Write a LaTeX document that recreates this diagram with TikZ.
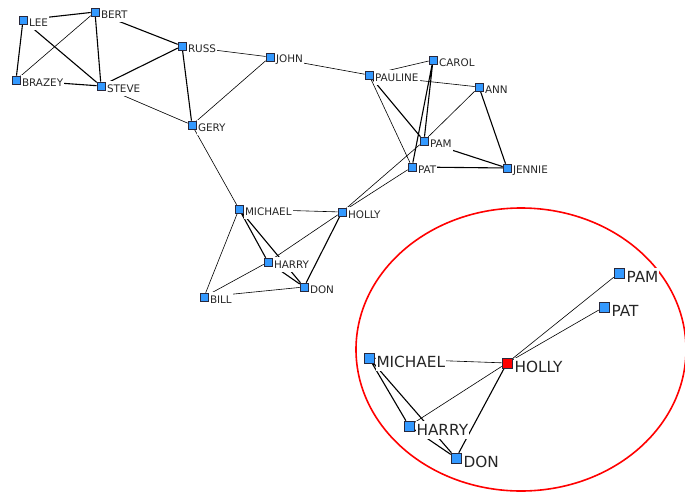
\documentclass[tikz,border=0pt]{standalone}
\usepackage{fontspec}
\setmainfont{DejaVu Sans}
\usetikzlibrary{backgrounds}
\definecolor{nodeblue}{RGB}{51,153,255}
\definecolor{nodeedge}{RGB}{40,40,60}
\tikzset{
  actor/.style={rectangle, draw=nodeedge, line width=0.6pt, fill=nodeblue,
    minimum size=#1, inner sep=0pt},
  actor/.default=8pt,
  lab/.style={fill=white, inner xsep=1pt, inner ysep=3.5pt, text=black!85},
  toplab/.style={label={[lab, font=\fontsize{10.4}{10.4}\selectfont, anchor=west,
    label distance=0.5pt, yshift=-2.5pt]east:#1}},
  sublab/.style={label={[lab, font=\fontsize{15.3}{15.3}\selectfont, anchor=west,
    label distance=1pt, yshift=-4pt]east:#1}},
  tie/.style={draw=black, line width=0.6pt},
  strong/.style={draw=black, line width=1.1pt},
}
\begin{document}
\begin{tikzpicture}[x=1pt, y=-1pt]
\useasboundingbox (0,0) rectangle (685,493);

% ---- full network ----
\node[actor, toplab=LEE]     (lee)     at (23,20)  {};
\node[actor, toplab=BERT]    (bert)    at (95,12)  {};
\node[actor, toplab=BRAZEY]  (brazey)  at (16,80)  {};
\node[actor, toplab=STEVE]   (steve)   at (101,86) {};
\node[actor, toplab=RUSS]    (russ)    at (182,46) {};
\node[actor, toplab=JOHN]    (john)    at (270,57) {};
\node[actor, toplab=GERY]    (gery)    at (192,125){};
\node[actor, toplab=PAULINE] (pauline) at (369,75) {};
\node[actor, toplab=CAROL]   (carol)   at (433,60) {};
\node[actor, toplab=ANN]     (ann)     at (479,87) {};
\node[actor, toplab=PAM]     (pam)     at (424,141){};
\node[actor, toplab=PAT]     (pat)     at (412,167){};
\node[actor, toplab=JENNIE]  (jennie)  at (507,168){};
\node[actor, toplab=MICHAEL] (michael) at (239,209){};
\node[actor, toplab=HOLLY]   (holly)   at (342,212){};
\node[actor, toplab=HARRY]   (harry)   at (268,262){};
\node[actor, toplab=DON]     (don)     at (304,287){};
\node[actor, toplab=BILL]    (bill)    at (204,297){};

% ---- ego network of HOLLY ----
\node[actor=10pt, sublab=PAM]     (spam)     at (619,273) {};
\node[actor=10pt, sublab=PAT]     (spat)     at (604,307) {};
\node[actor=10pt, sublab=MICHAEL] (smichael) at (369,358) {};
\node[actor=10pt, sublab=HOLLY, fill=red] (sholly) at (507,363) {};
\node[actor=10pt, sublab=HARRY]   (sharry)   at (409,426) {};
\node[actor=10pt, sublab=DON]     (sdon)     at (456,458) {};

\begin{scope}[on background layer]
  % ties of the full network
  \path[strong] (lee) -- (bert) (lee) -- (brazey) (lee) -- (steve)
    (bert) -- (steve) (brazey) -- (steve) (bert) -- (russ) (steve) -- (russ)
    (russ) -- (gery) (pauline) -- (pam) (carol) -- (pat) (carol) -- (pam)
    (ann) -- (jennie) (pat) -- (jennie) (pam) -- (jennie)
    (michael) -- (harry) (michael) -- (don) (harry) -- (don) (holly) -- (don);
  \path[tie] (bert) -- (brazey) (russ) -- (john) (steve) -- (gery)
    (john) -- (gery) (gery) -- (michael) (john) -- (pauline)
    (pauline) -- (carol) (pauline) -- (ann) (pauline) -- (pat) (ann) -- (pam)
    (holly) -- (pam) (holly) -- (pat) (michael) -- (holly) (holly) -- (harry)
    (michael) -- (bill) (bill) -- (harry) (bill) -- (don);
  % ties of the ego network
  \path[strong] (smichael) -- (sharry) (smichael) -- (sdon) (sharry) -- (sdon)
    (sholly) -- (sdon);
  \path[tie] (sholly) -- (spam) (sholly) -- (spat) (smichael) -- (sholly)
    (sholly) -- (sharry);
  % outline round the ego network
  \draw[red, line width=1.6pt] (521,349.5) ellipse [x radius=165, y radius=141.5];
\end{scope}
\end{tikzpicture}
\end{document}
